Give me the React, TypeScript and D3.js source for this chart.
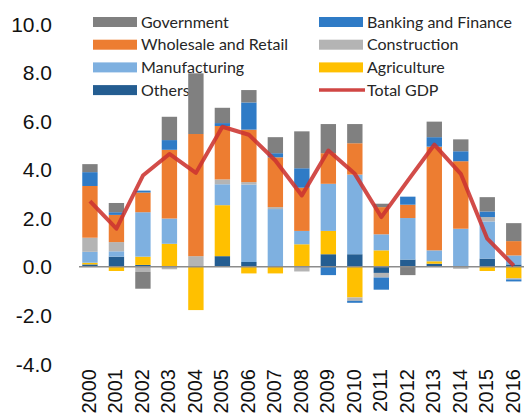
import { useRef, useEffect } from 'react';
import * as d3 from 'd3';

const years = ['2000', '2001', '2002', '2003', '2004', '2005', '2006', '2007', '2008',
  '2009', '2010', '2011', '2012', '2013', '2014', '2015', '2016'];

const others = [0.10, 0.42, 0.08, 0, 0, 0.44, 0.20, 0, 0, 0.52, 0.52, -0.25, 0.30, 0.13, 0, 0.34, 0.10];
const agriculture = [0.07, -0.17, 0.34, 0.95, -1.78, 2.10, -0.27, -0.27, 0.93, 0.96, -1.26, 0.68, 0, 0.10, 0, -0.17, -0.47];
const manufacturing = [0.45, 0.22, 1.83, 1.04, 0, 0.86, 3.19, 2.38, 0.55, 1.94, 3.28, 0.66, 1.71, 0.45, 1.57, 1.53, 0.37];
const construction = [0.58, 0.38, -0.20, -0.10, 0.44, 0.20, 0.10, 0.08, -0.19, 0, -0.14, -0.19, 0, 0, -0.08, 0.18, -0.05];
const wholesale = [2.13, 1.12, 0.81, 2.83, 5.03, 2.20, 2.16, 2.05, 1.78, 1.26, 1.29, 1.12, 0.55, 4.27, 2.78, 0, 0.59];
const banking = [0.57, 0.11, 0.08, 0.40, 0, 0.12, 1.12, 0.17, 0.80, -0.34, -0.08, -0.50, 0.33, 0.39, 0.41, 0.23, -0.08];
const government = [0.33, 0.38, -0.70, 0.96, 2.50, 0.63, 0.51, 0.66, 1.52, 1.20, 0.79, 0.14, -0.34, 0.64, 0.49, 0.59, 0.74];
const totalGdp = [2.71, 1.57, 3.76, 4.65, 3.87, 5.77, 5.44, 4.38, 2.94, 4.79, 3.83, 2.05, 3.55, 5.03, 3.83, 1.16, 0.05];

const yTicks = [10, 8, 6, 4, 2, 0, -2, -4];

// stacking order, bottom to top
const seriesKeys = ['Others', 'Agriculture', 'Manufacturing', 'Construction', 'Wholesale and Retail', 'Banking and Finance', 'Government'];
const seriesValues = [others, agriculture, manufacturing, construction, wholesale, banking, government];
const seriesColors = ['#245d91', '#ffc000', '#7eb0e0', '#b4b4b4', '#ed7d31', '#2f7bc6', '#808080'];

// legend as shown, row by row
const legendItems = ['Government', 'Banking and Finance', 'Wholesale and Retail', 'Construction',
  'Manufacturing', 'Agriculture', 'Others', 'Total GDP'];

const W = 524;
const H = 416;

function App() {
  const ref = useRef<SVGSVGElement>(null);

  useEffect(() => {
    const svg = d3.select(ref.current);
    svg.selectAll('*').remove();

    const rows = years.map((year, i) => {
      const row: any = { year };
      seriesKeys.forEach((k, j) => { row[k] = seriesValues[j][i]; });
      return row;
    });

    const x = d3.scaleBand().domain(years).range([76.7, 527]).paddingInner(0.42).paddingOuter(0.21);
    const y = d3.scaleLinear().domain([-4, 10]).range([364, 24]);
    const color = d3.scaleOrdinal<string, string>().domain(seriesKeys).range(seriesColors);

    const stacked = d3.stack().keys(seriesKeys).offset(d3.stackOffsetDiverging)(rows);

    // legend (drawn first, bars sit on top of it)
    const legend = svg.append('g').attr('font-family', 'Lato, "Open Sans", sans-serif').attr('font-size', 16);
    legendItems.forEach((name, i) => {
      const col = i % 2;
      const row = Math.floor(i / 2);
      const ly = 22 + row * 22.7;
      const sx = col === 0 ? 93 : 319;
      if (name === 'Total GDP') {
        legend.append('line')
          .attr('x1', sx).attr('x2', sx + 46).attr('y1', ly).attr('y2', ly)
          .attr('stroke', '#cc3330').attr('stroke-width', 3.5).attr('opacity', 0.9);
      } else {
        legend.append('rect')
          .attr('x', sx).attr('y', ly - 5).attr('width', 44).attr('height', 10)
          .attr('fill', color(name));
      }
      legend.append('text')
        .attr('x', sx + 48).attr('y', ly).attr('dy', '0.36em')
        .attr('fill', '#262626')
        .text(name);
    });

    // y labels
    svg.append('g')
      .selectAll('text')
      .data(yTicks)
      .join('text')
      .attr('x', 52)
      .attr('y', d => y(d))
      .attr('dy', '0.36em')
      .attr('text-anchor', 'end')
      .attr('font-family', '"Liberation Sans", Arial, sans-serif')
      .attr('font-size', 21)
      .attr('fill', '#111')
      .text(d => d.toFixed(1));

    // x labels
    svg.append('g')
      .selectAll('text')
      .data(years)
      .join('text')
      .attr('transform', d => `translate(${x(d)! + x.bandwidth() / 2 + 6}, 369) rotate(-90)`)
      .attr('text-anchor', 'end')
      .attr('font-family', '"Liberation Sans", Arial, sans-serif')
      .attr('font-size', 20)
      .attr('fill', '#111')
      .text(d => d);

    // bars
    svg.append('g')
      .selectAll('g')
      .data(stacked)
      .join('g')
      .attr('fill', d => color(d.key))
      .selectAll('rect')
      .data(d => d)
      .join('rect')
      .attr('x', d => x((d.data as any).year)!)
      .attr('width', x.bandwidth())
      .attr('y', d => y(Math.max(d[0], d[1])))
      .attr('height', d => Math.abs(y(d[0]) - y(d[1])));

    // zero axis
    svg.append('line')
      .attr('x1', 79).attr('x2', W)
      .attr('y1', y(0)).attr('y2', y(0))
      .attr('stroke', '#8c8c8c').attr('stroke-width', 1.5);

    // total GDP line
    const line = d3.line<number>()
      .x((_, i) => x(years[i])! + x.bandwidth() / 2)
      .y(d => y(d));

    svg.append('path')
      .datum(totalGdp)
      .attr('d', line)
      .attr('fill', 'none')
      .attr('stroke', '#cc3330')
      .attr('stroke-width', 4)
      .attr('stroke-linejoin', 'round')
      .attr('opacity', 0.88);
  }, []);

  return (
    <svg
      ref={ref}
      width={W}
      height={H}
      style={{ position: 'fixed', left: 0, top: 0, background: '#fff' }}
    />
  );
}

export default App;
